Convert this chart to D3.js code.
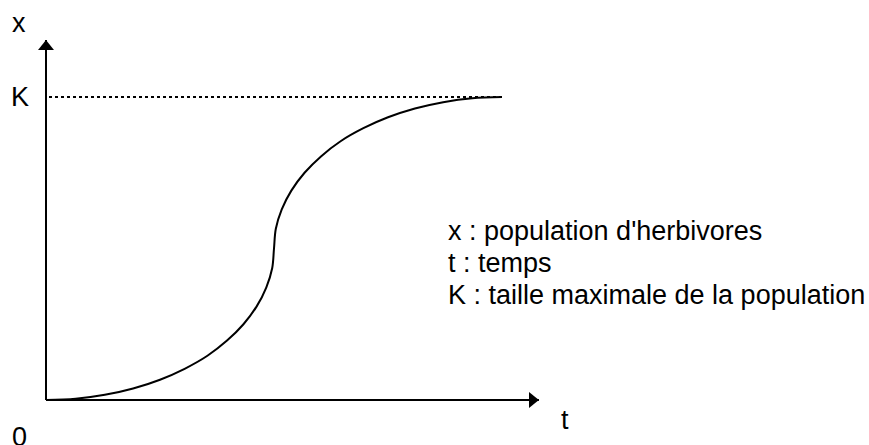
<!DOCTYPE html>
<html>
<head>
<meta charset="utf-8">
<script src="https://cdn.jsdelivr.net/npm/d3@7"></script>
<style>
  body { margin: 0; background: #fff; }
  text { font-family: "Liberation Sans", Arial, sans-serif; fill: #000; }
</style>
</head>
<body>
<svg width="869" height="445"></svg>
<script>
// logistic growth curve (t and x scaled so K = 1)
const tValues = [0, 0.065, 0.129, 0.191, 0.25, 0.304, 0.354, 0.397, 0.433, 0.462, 0.483, 0.496, 0.5,
  0.504, 0.517, 0.538, 0.567, 0.603, 0.646, 0.696, 0.75, 0.809, 0.871, 0.935, 1];
const xValues = [0, 0.004, 0.017, 0.038, 0.067, 0.103, 0.146, 0.196, 0.25, 0.309, 0.371, 0.435, 0.5,
  0.565, 0.629, 0.691, 0.75, 0.804, 0.854, 0.897, 0.933, 0.962, 0.983, 0.996, 1];
const K = 1;
const axisEnds = { t: 1.081, x: 1.188 };
const legendLines = ["x : population d'herbivores", "t : temps", "K : taille maximale de la population"];

const svg = d3.select('svg');

const tScale = d3.scaleLinear().domain([0, 1]).range([46, 502]);
const xScale = d3.scaleLinear().domain([0, 1]).range([400, 97]);

const points = tValues.map((t, i) => [t, xValues[i]]);

// arrow marker for the axes
svg.append('defs').append('marker')
  .attr('id', 'arrow')
  .attr('viewBox', '0 0 10 16')
  .attr('refX', 10)
  .attr('refY', 8)
  .attr('markerWidth', 10)
  .attr('markerHeight', 16)
  .attr('markerUnits', 'userSpaceOnUse')
  .attr('orient', 'auto')
  .append('path')
  .attr('d', 'M0,0 L10,8 L0,16 Z')
  .attr('fill', '#000');

// axes
svg.append('line')
  .attr('x1', tScale(0)).attr('y1', xScale(0))
  .attr('x2', tScale(axisEnds.t)).attr('y2', xScale(0))
  .attr('stroke', '#000').attr('stroke-width', 2)
  .attr('marker-end', 'url(#arrow)');

svg.append('line')
  .attr('x1', tScale(0)).attr('y1', xScale(0))
  .attr('x2', tScale(0)).attr('y2', xScale(axisEnds.x))
  .attr('stroke', '#000').attr('stroke-width', 2)
  .attr('marker-end', 'url(#arrow)');

// K dotted line
svg.append('line')
  .attr('x1', tScale(0) + 3).attr('y1', xScale(K))
  .attr('x2', tScale(1)).attr('y2', xScale(K))
  .attr('stroke', '#000').attr('stroke-width', 2)
  .attr('stroke-dasharray', '3,3');

// curve
const line = d3.line()
  .x(d => tScale(d[0]))
  .y(d => xScale(d[1]))
  .curve(d3.curveCatmullRom.alpha(0.5));

svg.append('path')
  .datum(points)
  .attr('d', line)
  .attr('fill', 'none')
  .attr('stroke', '#000')
  .attr('stroke-width', 2);

// axis labels
const fs = '27px';
svg.append('text').attr('x', 12).attr('y', 32).style('font-size', fs).text('x');
svg.append('text').attr('x', 11).attr('y', 106).style('font-size', fs).text('K');
svg.append('text').attr('x', 12).attr('y', 446).style('font-size', fs).text('0');
svg.append('text').attr('x', 561).attr('y', 429).style('font-size', fs).text('t');

// legend
svg.append('g')
  .selectAll('text')
  .data(legendLines)
  .join('text')
  .attr('x', 448)
  .attr('y', (d, i) => 240 + i * 32)
  .style('font-size', '27px')
  .text(d => d);
</script>
</body>
</html>
